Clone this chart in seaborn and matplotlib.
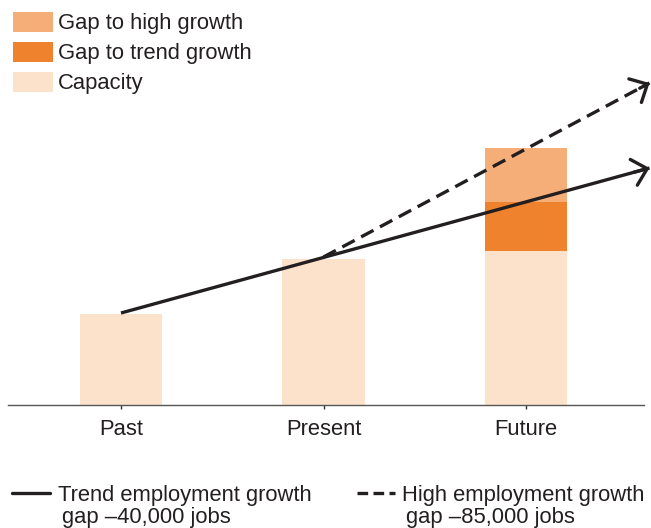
import matplotlib
matplotlib.use("Agg")
import matplotlib.pyplot as plt
from matplotlib.patches import Rectangle
from matplotlib.lines import Line2D
import seaborn as sns
import numpy as np

# ---- data (pixel-height-like units above baseline) ----
categories = ["Past", "Present", "Future"]
capacity = [91, 146, 154]
gap_trend = [0, 0, 49]
gap_high = [0, 0, 54]

trend_line_x = [0, 2.61]
trend_line_y = [92, 237]
high_line_x = [1, 2.61]
high_line_y = [148, 322]

legend_labels = ["Gap to high growth", "Gap to trend growth", "Capacity"]
line_labels = [("Trend employment growth", "gap \u201340,000 jobs"),
               ("High employment growth", "gap \u201385,000 jobs")]

# ---- style ----
sns.set_theme(style="white")
plt.rcParams["font.family"] = ["Liberation Sans", "DejaVu Sans"]
INK = "#231F20"
C_HIGH = "#F6AE78"
C_TREND = "#EF822C"
C_CAP = "#FCE1CB"
FS = 15.8

W, H = 651, 528
fig = plt.figure(figsize=(W / 100, H / 100), dpi=100)
ax_left, ax_right, ax_bottom, ax_top = 8, 644, 405, 60
ax = fig.add_axes([ax_left / W, (H - ax_bottom) / H,
                   (ax_right - ax_left) / W, (ax_bottom - ax_top) / H])

cap = np.array(capacity)
tr = cap + np.array(gap_trend)
hi = tr + np.array(gap_high)

bw = 0.405
for vals, col in [(hi, C_HIGH), (tr, C_TREND), (cap, C_CAP)]:
    sns.barplot(x=categories, y=vals, color=col, saturation=1, width=bw, ax=ax,
                zorder=1, linewidth=0, edgecolor="none")

# lines
ax.plot(trend_line_x, trend_line_y, color=INK, lw=2.4, solid_capstyle="butt", zorder=3, clip_on=False)
ax.plot(high_line_x, high_line_y, color=INK, lw=2.4, ls=(0, (4.2, 2.2)), zorder=3, clip_on=False)

def head(xs, ys):
    x0, x1 = xs
    y0, y1 = ys
    t = 0.97
    ax.annotate("", xy=(x1, y1), xytext=(x0 + (x1 - x0) * t, y0 + (y1 - y0) * t),
                arrowprops=dict(arrowstyle="->,head_length=0.5,head_width=0.48",
                                mutation_scale=20, lw=2.4, color=INK,
                                shrinkA=0, shrinkB=0),
                annotation_clip=False, zorder=4)

head(trend_line_x, trend_line_y)
head(high_line_x, high_line_y)

ax.set_xlim((ax_left - 121) / 202.5, (ax_right - 121) / 202.5)
ax.set_ylim(0, ax_bottom - ax_top)
for s in ["top", "right", "left"]:
    ax.spines[s].set_visible(False)
ax.spines["bottom"].set_color("#555555")
ax.spines["bottom"].set_linewidth(1.0)
ax.set_yticks([])
ax.set_xlabel("")
ax.set_ylabel("")
ax.tick_params(axis="x", bottom=True, direction="inout", length=6, width=1,
               color="#333333", labelsize=FS, labelcolor=INK, pad=7)

# top legend
cols = [C_HIGH, C_TREND, C_CAP]
for i, (lab, c) in enumerate(zip(legend_labels, cols)):
    yc = 22 + 30 * i
    fig.patches.append(Rectangle((13 / W, (H - yc - 10) / H), 40 / W, 20 / H,
                                 transform=fig.transFigure, facecolor=c,
                                 edgecolor="none"))
    fig.text(58 / W, 1 - (yc + 1) / H, lab, fontsize=FS, color=INK,
             ha="left", va="center")

# bottom line legend
specs = [(12, 50, 58, "-"), (357, 395, 402, (0, (3.2, 1.6)))]
for (x0, x1, xt, ls), (l1, l2) in zip(specs, line_labels):
    fig.lines.append(Line2D([x0 / W, x1 / W], [1 - 493 / H, 1 - 493 / H],
                            transform=fig.transFigure, color=INK, lw=2.4, ls=ls))
    fig.text(xt / W, 1 - 495 / H, l1, fontsize=FS, color=INK, ha="left", va="center")
    fig.text((xt + 4) / W, 1 - 517 / H, l2, fontsize=FS, color=INK, ha="left", va="center")

fig.savefig("out.png", dpi=100)
